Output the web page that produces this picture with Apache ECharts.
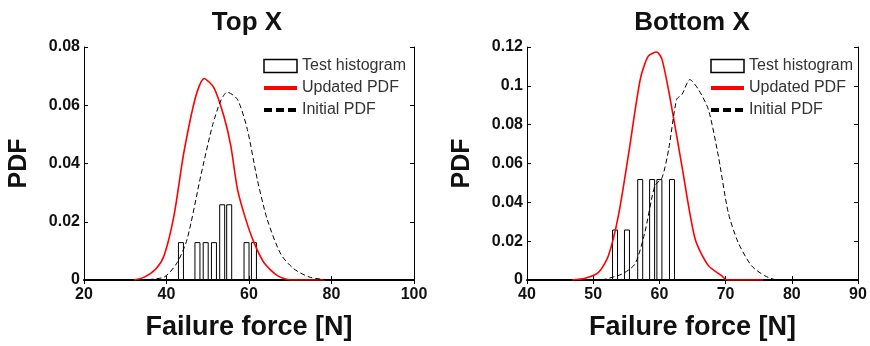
<!DOCTYPE html>
<html>
<head>
<meta charset="utf-8">
<script src="https://cdn.jsdelivr.net/npm/echarts@6/dist/echarts.min.js"></script>
<style>
  html, body { margin: 0; padding: 0; background: #fff; }
  #chart { width: 870px; height: 346px; }
</style>
</head>
<body>
<div id="chart"></div>
<script>
// Top X panel
const topHist = [[43.5, 0.013], [47.5, 0.013], [49.5, 0.013], [51.5, 0.013], [53.5, 0.026], [55.2, 0.026], [59.4, 0.013], [61.2, 0.013]]
const topUpdated = [[32.1, 0], [34.5, 0.0009], [37.4, 0.0038], [39.4, 0.0083], [41.8, 0.022], [44.2, 0.0437], [47.1, 0.0631], [49.1, 0.0692], [51.5, 0.066], [53.9, 0.0563], [55.6, 0.046], [57.2, 0.0312], [59.2, 0.0209], [61.2, 0.0129], [63.6, 0.006], [66.9, 0.0015], [70.1, 0], [78.6, 0]]
const topInitial = [[33.7, 0], [39.4, 0.001], [42.6, 0.006], [45, 0.014], [48.3, 0.0357], [51.1, 0.0528], [53.1, 0.0614], [54.7, 0.0645], [57.2, 0.062], [59.6, 0.0517], [62, 0.0346], [64.4, 0.0209], [67.7, 0.0089], [70.9, 0.0038], [74.9, 0.0009], [80.6, 0], [86.3, 0]]

// Bottom X panel
const botHist = [[53.3, 0.026], [55.1, 0.026], [57.1, 0.052], [58.9, 0.052], [60.0, 0.052], [61.9, 0.052]]
const botUpdated = [[46.8, 0], [48.8, 0.0009], [50.8, 0.0039], [52.3, 0.0125], [53.8, 0.033], [55.3, 0.0639], [57.1, 0.1032], [58.3, 0.1152], [59.6, 0.1174], [60.4, 0.1135], [61.6, 0.0938], [63.4, 0.0587], [65.4, 0.0211], [67.4, 0.0074], [69.4, 0.0022], [70.2, 0], [75.7, 0]]
const botInitial = [[51.3, 0], [54.3, 0.003], [56.3, 0.0082], [57.8, 0.0245], [59.3, 0.0484], [60.4, 0.0527], [61.4, 0.0673], [62.6, 0.093], [63.4, 0.0955], [64.6, 0.1032], [65.9, 0.0981], [67.4, 0.0878], [68.9, 0.0639], [70.4, 0.0347], [71.9, 0.0193], [73.9, 0.0074], [75.9, 0.0022], [77.9, 0], [83.5, 0]]

const font = "Liberation Sans"
const tickLabel = { color: "#111", fontSize: 16, fontWeight: "bold", fontFamily: font }

function xAxes(gridIndex, min, max, interval) {
  return [
    {
      gridIndex, type: "value", min, max, interval,
      name: "Failure force [N]", nameLocation: "middle", nameGap: 34,
      nameTextStyle: { color: "#111", fontSize: 27, fontWeight: "bold", fontFamily: font },
      axisLine: { lineStyle: { color: "#000", width: 2 } },
      axisTick: { inside: true, length: 4, lineStyle: { color: "#000" } },
      axisLabel: { ...tickLabel, margin: 7 },
      splitLine: { show: false },
    },
    {
      gridIndex, type: "value", min, max, interval, position: "top",
      axisLine: { lineStyle: { color: "#000" } },
      axisTick: { inside: true, length: 4, lineStyle: { color: "#000" } },
      axisLabel: { show: false },
      splitLine: { show: false },
    },
  ]
}

function yAxes(gridIndex, max, interval) {
  return [
    {
      gridIndex, type: "value", min: 0, max, interval,
      name: "PDF", nameLocation: "middle", nameGap: 52,
      nameTextStyle: { color: "#111", fontSize: 25, fontWeight: "bold", fontFamily: font },
      axisLine: { show: true, lineStyle: { color: "#000" } },
      axisTick: { inside: true, length: 4, lineStyle: { color: "#000" } },
      axisLabel: { ...tickLabel, margin: 4 },
      splitLine: { show: false },
    },
    {
      gridIndex, type: "value", min: 0, max, interval, position: "right",
      axisLine: { show: true, lineStyle: { color: "#000" } },
      axisTick: { inside: true, length: 4, lineStyle: { color: "#000" } },
      axisLabel: { show: false },
      splitLine: { show: false },
    },
  ]
}

function panelSeries(xi, yi, hist, updated, initial) {
  return [
    {
      name: "Test histogram", type: "bar", xAxisIndex: xi, yAxisIndex: yi,
      data: hist, barWidth: 6,
      itemStyle: { color: "#fff", borderColor: "#000", borderWidth: 1 },
    },
    {
      name: "Updated PDF", type: "line", xAxisIndex: xi, yAxisIndex: yi,
      data: updated, symbol: "none", smooth: 0.25,
      lineStyle: { color: "#ff0000", width: 1.6 },
    },
    {
      name: "Initial PDF", type: "line", xAxisIndex: xi, yAxisIndex: yi,
      data: initial, symbol: "none", smooth: 0.25,
      lineStyle: { color: "#000", width: 1, type: [5, 3] },
    },
  ]
}

function legend(left) {
  return {
    data: [
      { name: "Test histogram", icon: "rect", itemStyle: { color: "#fff", borderColor: "#000", borderWidth: 1.5 } },
      { name: "Updated PDF", itemStyle: { opacity: 0 }, lineStyle: { color: "#ff0000", width: 4 } },
      { name: "Initial PDF", itemStyle: { opacity: 0 }, lineStyle: { color: "#000", width: 4, type: [8, 4] } },
    ],
    orient: "vertical", left, top: 53,
    itemWidth: 33, itemHeight: 13, itemGap: 6,
    textStyle: { color: "#333", fontSize: 16, fontFamily: font },
    selectedMode: false,
  }
}

const chart = echarts.init(document.getElementById("chart"))
chart.setOption({
  animation: false,
  backgroundColor: "#fff",
  title: [
    { text: "Top X", left: 242, top: 5, textAlign: "center", textStyle: { color: "#111", fontSize: 26, fontWeight: "bold", fontFamily: font } },
    { text: "Bottom X", left: 687, top: 5, textAlign: "center", textStyle: { color: "#111", fontSize: 26, fontWeight: "bold", fontFamily: font } },
  ],
  legend: [legend(257), legend(704)],
  grid: [
    { left: 84, right: 456, top: 47, bottom: 65 },
    { left: 527, right: 12, top: 47, bottom: 65 },
  ],
  xAxis: [...xAxes(0, 20, 100, 20), ...xAxes(1, 40, 90, 10)],
  yAxis: [...yAxes(0, 0.08, 0.02), ...yAxes(1, 0.12, 0.02)],
  series: [
    ...panelSeries(0, 0, topHist, topUpdated, topInitial),
    ...panelSeries(2, 2, botHist, botUpdated, botInitial),
  ],
})
</script>
</body>
</html>
